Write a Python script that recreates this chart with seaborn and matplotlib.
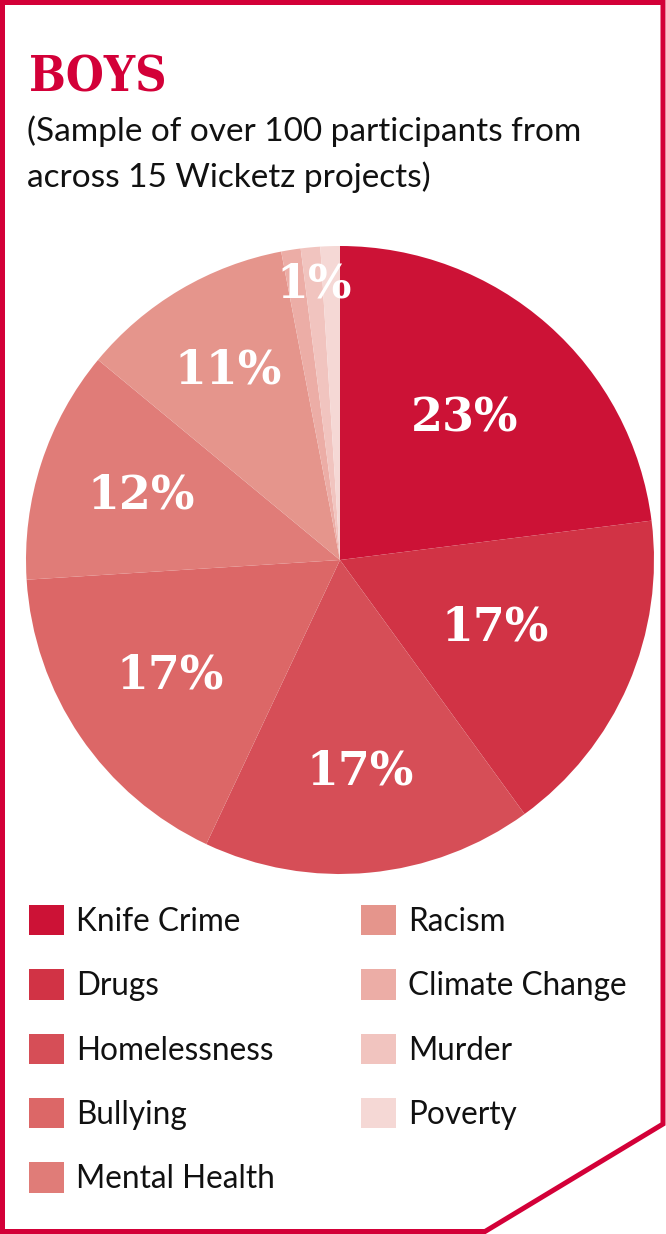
import matplotlib
matplotlib.use("Agg")
import matplotlib.pyplot as plt
from matplotlib.patches import Polygon
import numpy as np
import seaborn as sns

# ---- data ----
categories = ["Knife Crime", "Drugs", "Homelessness", "Bullying", "Mental Health",
              "Racism", "Climate Change", "Murder", "Poverty"]
values = [23, 17, 17, 17, 12, 11, 1, 1, 1]
show_label = [True, True, True, True, True, True, False, True, False]
colors = ["#CC1236", "#D13345", "#D64E57", "#DC6767", "#E07C78",
          "#E5958C", "#ECADA6", "#F1C4BF", "#F5D8D5"]
title = "BOYS"
subtitle = ["(Sample of over 100 participants from", "across 15 Wicketz projects)"]

# label radial positions (fraction of radius)
label_r = [0.60, 0.54, 0.675, 0.655, 0.665, 0.70, 0.88, 0.88, 0.88]

sns.set_theme(style="white")
plt.rcParams["font.family"] = ["Lato", "DejaVu Sans"]

W, H = 666, 1234
fig = plt.figure(figsize=(W / 100, H / 100), dpi=100)
fig.patch.set_facecolor("white")

RED = "#D30038"

# frame
pts = [(2.5, 2.5), (663, 2.5), (663, 1124), (485, 1231.5), (2.5, 1231.5)]
poly = Polygon([(x / W, 1 - y / H) for x, y in pts], closed=True, fill=False,
               edgecolor=RED, linewidth=3.6, joinstyle="miter",
               transform=fig.transFigure)
fig.add_artist(poly)

# title & subtitle
fig.text(29 / W, 1 - 92 / H, title, color=RED, fontsize=35, fontweight="bold",
         family=["DejaVu Serif"], fontstretch="condensed", va="baseline", ha="left")
for i, line in enumerate(subtitle):
    fig.text(27 / W, 1 - (141 + 46 * i) / H, line, color="#111111", fontsize=24,
             va="baseline", ha="left")

# pie
cx, cy, R = 340, 560, 314
ax = fig.add_axes([(cx - R) / W, (H - cy - R) / H, 2 * R / W, 2 * R / H])
wedges, _ = ax.pie(values, colors=colors, startangle=90, counterclock=False,
                   radius=1, wedgeprops=dict(linewidth=0))
ax.set_xlim(-1, 1)
ax.set_ylim(-1, 1)
ax.set_aspect("equal")
ax.axis("off")

total = sum(values)
cum = np.cumsum([0] + values)
for i, v in enumerate(values):
    if not show_label[i]:
        continue
    mid = (cum[i] + v / 2) / total * 2 * np.pi
    r = label_r[i]
    ax.text(r * np.sin(mid), r * np.cos(mid), f"{v}%", color="white",
            fontsize=33, fontweight="bold", family=["DejaVu Serif"],
            ha="center", va="center")

# legend: two columns
fs = 22.7
common = dict(frameon=False, fontsize=fs, handlelength=1.1, handleheight=1.1,
              handletextpad=0.4, labelspacing=1.03, borderpad=0, borderaxespad=0,
              loc="upper left")
leg1 = fig.legend(wedges[:5], categories[:5], bbox_to_anchor=(29 / W, 1 - 905 / H),
                  **common)
leg2 = fig.legend(wedges[5:], categories[5:], bbox_to_anchor=(361 / W, 1 - 905 / H),
                  **common)
for leg in (leg1, leg2):
    for t in leg.get_texts():
        t.set_color("#111111")

fig.savefig("out.png", dpi=100, facecolor="white")
